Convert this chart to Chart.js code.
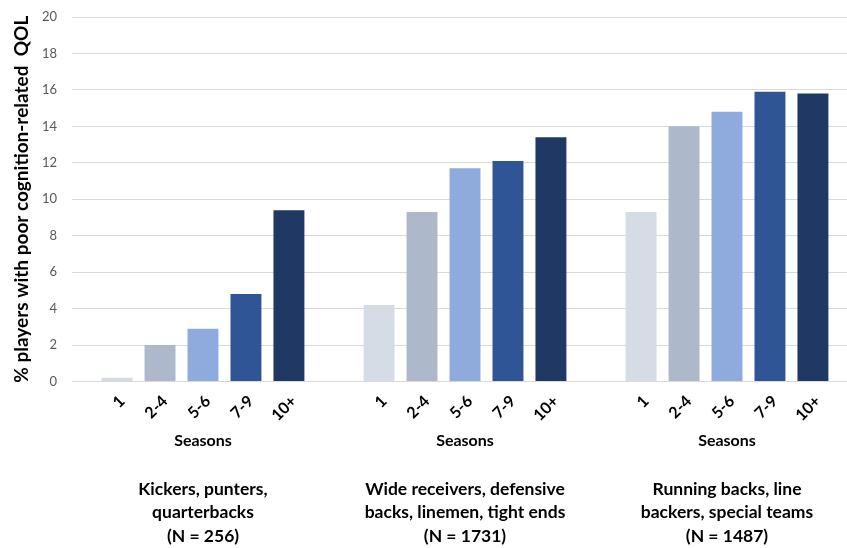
<!DOCTYPE html>
<html>
<head>
<meta charset="utf-8">
<script src="https://cdn.jsdelivr.net/npm/chart.js@4/dist/chart.umd.min.js"></script>
<style>
    html, body { margin: 0; padding: 0; background: #fff; overflow: hidden; }
    canvas { display: block; }
</style>
</head>
<body>
<canvas id="barChart" width="860" height="548" style="width:860px;height:548px"></canvas>
<script>
// Groupes de postes (axe x) et tranches de saisons (séries)
const GROUPS = [
    ['Kickers, punters,', 'quarterbacks', '(N = 256)'],
    ['Wide receivers, defensive', 'backs, linemen, tight ends', '(N = 1731)'],
    ['Running backs, line', 'backers, special teams', '(N = 1487)']
];
const SEASONS = ['1', '2-4', '5-6', '7-9', '10+'];

// % de joueurs par tranche, un tableau par série (ordre des groupes)
const s1 = [0.2, 4.2, 9.3];
const s2_4 = [2.0, 9.3, 14.0];
const s5_6 = [2.9, 11.7, 14.8];
const s7_9 = [4.8, 12.1, 15.9];
const s10p = [9.4, 13.4, 15.8];

const Y_MIN = 0;
const Y_MAX = 20;
const Y_STEP = 2;

const COLORS = ['#d6dce5', '#adb9ca', '#8faadc', '#2f5597', '#203864'];
const FONT = 'Lato, "Open Sans", sans-serif';

// Etiquettes inclinées sous chaque barre + "Seasons" sous chaque groupe
const seasonLabels = {
    id: 'seasonLabels',
    afterDraw(chart) {
        const ctx = chart.ctx;
        const bottom = chart.chartArea.bottom;
        ctx.save();
        ctx.fillStyle = '#000';
        ctx.font = 'bold 16px ' + FONT;
        chart.data.datasets.forEach((ds, i) => {
            const meta = chart.getDatasetMeta(i);
            meta.data.forEach(bar => {
                ctx.save();
                ctx.translate(bar.x + 5, bottom + 17);
                ctx.rotate(-Math.PI / 4);
                ctx.textAlign = 'right';
                ctx.textBaseline = 'middle';
                ctx.fillText(ds.label, 0, 0);
                ctx.restore();
            });
        });
        ctx.textAlign = 'center';
        ctx.textBaseline = 'middle';
        const xScale = chart.scales.x;
        GROUPS.forEach((g, i) => {
            ctx.fillText('Seasons', xScale.getPixelForValue(i), bottom + 59);
        });
        ctx.restore();
    }
};

const seriesValues = [s1, s2_4, s5_6, s7_9, s10p];

new Chart(document.getElementById('barChart'), {
    type: 'bar',
    data: {
        labels: GROUPS,
        datasets: SEASONS.map((s, i) => ({
            label: s,
            data: seriesValues[i],
            backgroundColor: COLORS[i],
            borderWidth: 0,
            categoryPercentage: 0.82,
            barPercentage: 0.72
        }))
    },
    options: {
        responsive: false,
        animation: false,
        layout: { padding: { top: 17, left: 10, right: 2, bottom: 0 } },
        plugins: {
            legend: { display: false },
            tooltip: { enabled: false }
        },
        scales: {
            x: {
                grid: { display: false, drawTicks: false },
                border: { display: true, color: '#d9d9d9' },
                ticks: {
                    color: '#000',
                    padding: 96,
                    maxRotation: 0,
                    font: { family: FONT, size: 17.5, weight: 'bold', lineHeight: 1.343 }
                },
                // la marge des étiquettes ne doit pas rétrécir la zone du graphique
                afterFit(scale) {
                    scale.height = 166.5;
                    scale.paddingLeft = 0;
                    scale.paddingRight = 0;
                }
            },
            y: {
                min: Y_MIN,
                max: Y_MAX,
                grid: { color: '#d9d9d9', drawTicks: false },
                border: { display: false },
                ticks: {
                    stepSize: Y_STEP,
                    padding: 15,
                    color: '#595959',
                    font: { family: FONT, size: 13 }
                },
                title: {
                    display: true,
                    text: '% players with poor cognition-related  QOL',
                    color: '#000',
                    padding: { top: 0, bottom: 8 },
                    font: { family: FONT, size: 19, weight: 'bold' }
                },
                afterFit(scale) {
                    scale.width = 62;
                    scale.paddingTop = 0;
                    scale.paddingBottom = 0;
                }
            }
        }
    },
    plugins: [seasonLabels]
});
</script>
</body>
</html>
